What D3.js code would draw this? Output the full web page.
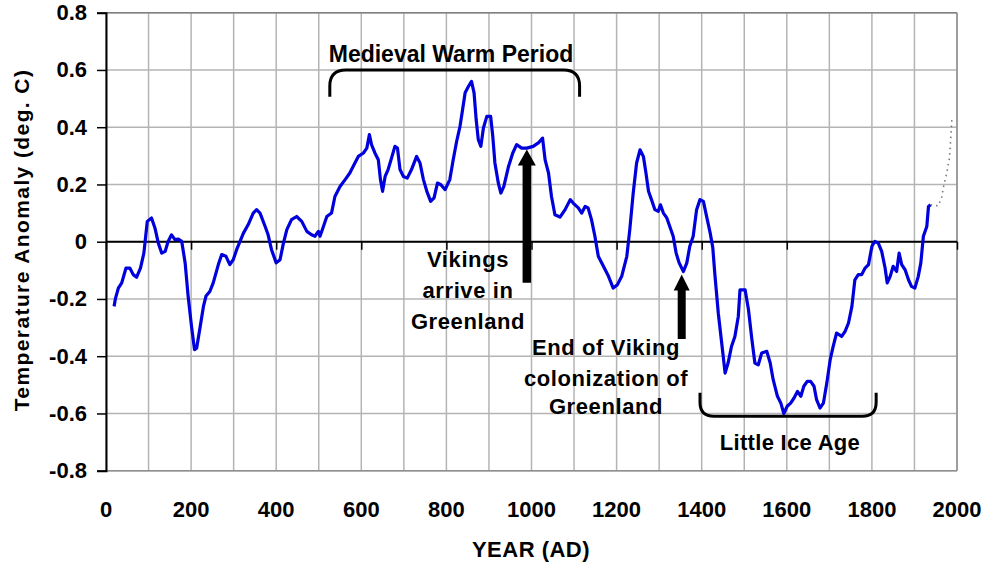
<!DOCTYPE html>
<html>
<head>
<meta charset="utf-8">
<script src="https://cdn.jsdelivr.net/npm/d3@7"></script>
<style>
  html, body { margin: 0; padding: 0; background: #fff; }
  svg { display: block; }
  text { font-family: "Liberation Sans", Arial, sans-serif; font-weight: bold; fill: #000; }
</style>
</head>
<body>
<svg id="chart" width="987" height="562"></svg>
<script>
// ---- data ----
const years = [19,22,29,37,47,56,64,72,81,89,97,107,115,123,131,139,146,154,162,170,178,186,193,201,208,213,221,229,235,244,252,264,272,282,291,299,307,315,323,334,346,354,362,374,381,389,400,409,417,425,436,448,460,472,483,491,499,503,511,519,530,538,550,562,573,585,593,605,613,619,624,632,640,645,650,656,663,671,679,685,691,699,708,718,730,738,746,754,763,771,779,787,797,808,816,824,832,838,844,852,859,865,870,875,881,887,895,904,909,914,922,928,935,946,956,965,977,989,1004,1016,1026,1032,1040,1047,1055,1067,1079,1091,1098,1110,1118,1126,1133,1141,1149,1157,1169,1181,1192,1202,1212,1224,1231,1239,1247,1255,1263,1269,1275,1282,1290,1298,1303,1310,1318,1325,1333,1340,1347,1357,1365,1372,1380,1388,1396,1404,1412,1420,1426,1431,1439,1447,1455,1462,1470,1478,1486,1490,1502,1510,1518,1525,1533,1541,1553,1561,1568,1578,1586,1593,1601,1609,1617,1625,1633,1640,1648,1656,1664,1670,1678,1686,1694,1702,1709,1717,1729,1737,1745,1753,1760,1768,1776,1784,1792,1800,1807,1815,1823,1831,1836,1843,1850,1858,1864,1870,1878,1886,1893,1901,1909,1915,1921,1929,1933,1938];
const anomaly = [-0.226,-0.20,-0.162,-0.144,-0.092,-0.092,-0.115,-0.124,-0.092,-0.04,0.071,0.083,0.048,-0.005,-0.04,-0.034,0.001,0.024,0.007,0.009,0.001,-0.074,-0.19,-0.296,-0.377,-0.372,-0.30,-0.226,-0.19,-0.174,-0.144,-0.08,-0.045,-0.051,-0.08,-0.063,-0.028,0.001,0.03,0.059,0.10,0.112,0.10,0.053,0.024,-0.028,-0.074,-0.063,-0.005,0.042,0.077,0.088,0.071,0.036,0.024,0.019,0.036,0.019,0.053,0.088,0.10,0.158,0.193,0.217,0.24,0.275,0.298,0.31,0.327,0.374,0.339,0.31,0.286,0.217,0.176,0.228,0.252,0.292,0.333,0.327,0.252,0.228,0.222,0.252,0.298,0.275,0.217,0.176,0.141,0.153,0.205,0.199,0.182,0.217,0.286,0.35,0.403,0.461,0.52,0.543,0.56,0.52,0.426,0.356,0.333,0.397,0.438,0.438,0.368,0.275,0.205,0.17,0.193,0.263,0.31,0.339,0.327,0.327,0.333,0.345,0.362,0.286,0.24,0.158,0.094,0.086,0.112,0.147,0.135,0.118,0.10,0.123,0.118,0.077,0.019,-0.051,-0.086,-0.121,-0.162,-0.15,-0.121,-0.051,0.042,0.17,0.275,0.321,0.298,0.24,0.176,0.147,0.112,0.106,0.129,0.10,0.083,0.053,0.019,-0.04,-0.074,-0.104,-0.074,-0.016,0.019,0.112,0.147,0.141,0.085,0.03,-0.02,-0.115,-0.25,-0.354,-0.459,-0.424,-0.366,-0.331,-0.261,-0.168,-0.168,-0.238,-0.342,-0.424,-0.43,-0.389,-0.383,-0.424,-0.482,-0.54,-0.564,-0.60,-0.575,-0.564,-0.546,-0.523,-0.54,-0.505,-0.488,-0.488,-0.505,-0.552,-0.581,-0.564,-0.494,-0.412,-0.366,-0.319,-0.331,-0.313,-0.284,-0.226,-0.133,-0.115,-0.115,-0.092,-0.08,-0.016,0.001,-0.005,-0.034,-0.092,-0.144,-0.121,-0.086,-0.104,-0.04,-0.08,-0.098,-0.133,-0.156,-0.162,-0.121,-0.074,0.019,0.053,0.123,0.129];
const dottedYears = [1938,1956,1964,1968,1976,1982,1984,1986,1988];
const dottedValues = [0.129,0.125,0.155,0.19,0.24,0.29,0.33,0.38,0.43];
const xTicks = [0,200,400,600,800,1000,1200,1400,1600,1800,2000];
const yTicks = [-0.8,-0.6,-0.4,-0.2,0,0.2,0.4,0.6,0.8];
const yTickLabels = ["-0.8","-0.6","-0.4","-0.2","0","0.2","0.4","0.6","0.8"];
const xGrid = d3.range(0, 2001, 100);

// ---- layout ----
const svg = d3.select("#chart");
const L = 106, R = 957, T = 12.7, B = 470.7;
const x = d3.scaleLinear().domain([0, 2000]).range([L, R]);
const y = d3.scaleLinear().domain([-0.8, 0.8]).range([B, T]);

// gridlines
const g = svg.append("g");
g.selectAll(".vg").data(xGrid).enter().append("line")
  .attr("x1", d => x(d)).attr("x2", d => x(d)).attr("y1", T).attr("y2", B)
  .attr("stroke", "#b4b4b4").attr("stroke-width", 1.5);
g.selectAll(".hg").data(yTicks).enter().append("line")
  .attr("x1", L).attr("x2", R).attr("y1", d => y(d)).attr("y2", d => y(d))
  .attr("stroke", "#b4b4b4").attr("stroke-width", 1.5);
// border
g.append("line").attr("x1", L).attr("x2", R).attr("y1", T).attr("y2", T).attr("stroke", "#808080").attr("stroke-width", 1.5);
g.append("line").attr("x1", R).attr("x2", R).attr("y1", T).attr("y2", B).attr("stroke", "#909090").attr("stroke-width", 1.5);
g.append("line").attr("x1", L).attr("x2", R).attr("y1", B).attr("y2", B).attr("stroke", "#909090").attr("stroke-width", 1.5);

// y axis
const yAxis = d3.axisLeft(y).tickValues(yTicks).tickSize(9).tickFormat((d, i) => yTickLabels[i]);
const ya = svg.append("g").attr("transform", `translate(${L},0)`).call(yAxis);
ya.select(".domain").attr("stroke", "#000").attr("stroke-width", 2);
ya.selectAll(".tick line").attr("stroke", "#000").attr("stroke-width", 1.5);
ya.selectAll(".tick text").attr("x", -19).attr("font-size", 22)
  .style("font-family", '"Liberation Sans", Arial, sans-serif').style("font-weight", "bold").attr("fill", "#000");

// x axis along zero line (ticks only)
const xAxis = d3.axisBottom(x).tickValues(xTicks).tickSize(8).tickFormat("");
const xa = svg.append("g").attr("transform", `translate(0,${y(0)})`).call(xAxis);
xa.select(".domain").attr("stroke", "#000").attr("stroke-width", 2).attr("d", `M${L},0H${R}`);
xa.selectAll(".tick line").attr("stroke", "#000").attr("stroke-width", 1.5);

// x tick labels at bottom
svg.selectAll(".xl").data(xTicks).enter().append("text")
  .attr("x", d => x(d)).attr("y", 516.5).attr("text-anchor", "middle").attr("font-size", 22)
  .text(d => d);

// axis titles
svg.append("text").attr("x", 531).attr("y", 556.5).attr("text-anchor", "middle")
  .attr("font-size", 22).style("letter-spacing", "0.5px").text("YEAR (AD)");
svg.append("text").attr("transform", "translate(28.5,240) rotate(-90)").attr("text-anchor", "middle")
  .attr("font-size", 21).style("letter-spacing", "1.4px").text("Temperature Anomaly (deg. C)");

// data line
const line = d3.line().x(d => x(d[0])).y(d => y(d[1]));
const pts = years.map((yr, i) => [yr, anomaly[i]]);
svg.append("path").datum(pts).attr("d", line).attr("fill", "none")
  .attr("stroke", "#0000dd").attr("stroke-width", 3.2).attr("stroke-linejoin", "round");
const dpts = dottedYears.map((yr, i) => [yr, dottedValues[i]]);
svg.append("path").datum(dpts).attr("d", line).attr("fill", "none")
  .attr("stroke", "#777").attr("stroke-width", 1.6).attr("stroke-dasharray", "1.5,4");

// brackets
function bracket(x0, x1, yLevel, yTip, r, dir) {
  // dir = -1 : opening downward (level above tips) ; +1 : level below tips
  const s = dir;
  return `M${x0},${yTip} L${x0},${yLevel - s * r} Q${x0},${yLevel} ${x0 + r},${yLevel} L${x1 - r},${yLevel} Q${x1},${yLevel} ${x1},${yLevel - s * r} L${x1},${yTip}`;
}
svg.append("path").attr("d", bracket(x(526), x(1113), y(0.6), y(0.506), 16, -1))
  .attr("fill", "none").attr("stroke", "#000").attr("stroke-width", 3);
svg.append("path").attr("d", bracket(x(1396), x(1810), y(-0.61), y(-0.528), 14, 1))
  .attr("fill", "none").attr("stroke", "#000").attr("stroke-width", 3);

// arrows
function arrow(xc, yBottom, yTip, shaftW, headW, headH) {
  const hs = shaftW / 2, hh = headW / 2;
  return `M${xc - hs},${yBottom} L${xc - hs},${yTip + headH} L${xc - hh},${yTip + headH} L${xc},${yTip} L${xc + hh},${yTip + headH} L${xc + hs},${yTip + headH} L${xc + hs},${yBottom} Z`;
}
svg.append("path").attr("d", arrow(x(989), y(-0.143), y(0.322), 8.5, 18, 16)).attr("fill", "#000");
svg.append("path").attr("d", arrow(x(1353), y(-0.34), y(-0.115), 8, 16, 16)).attr("fill", "#000");

// annotation text
function textLines(cx, baselines, lines, size, ls) {
  lines.forEach((t, i) => {
    svg.append("text").attr("x", cx).attr("y", baselines[i]).attr("text-anchor", "middle")
      .attr("font-size", size).style("letter-spacing", ls + "px").text(t);
  });
}
textLines(451, [61.5], ["Medieval Warm Period"], 23, 0);
textLines(790, [450], ["Little Ice Age"], 22, 0.3);
textLines(468, [267, 298, 329], ["Vikings", "arrive in", "Greenland"], 22, 0.6);
textLines(606, [355, 385.5, 414], ["End of Viking", "colonization of", "Greenland"], 22, 0.6);
</script>
</body>
</html>
